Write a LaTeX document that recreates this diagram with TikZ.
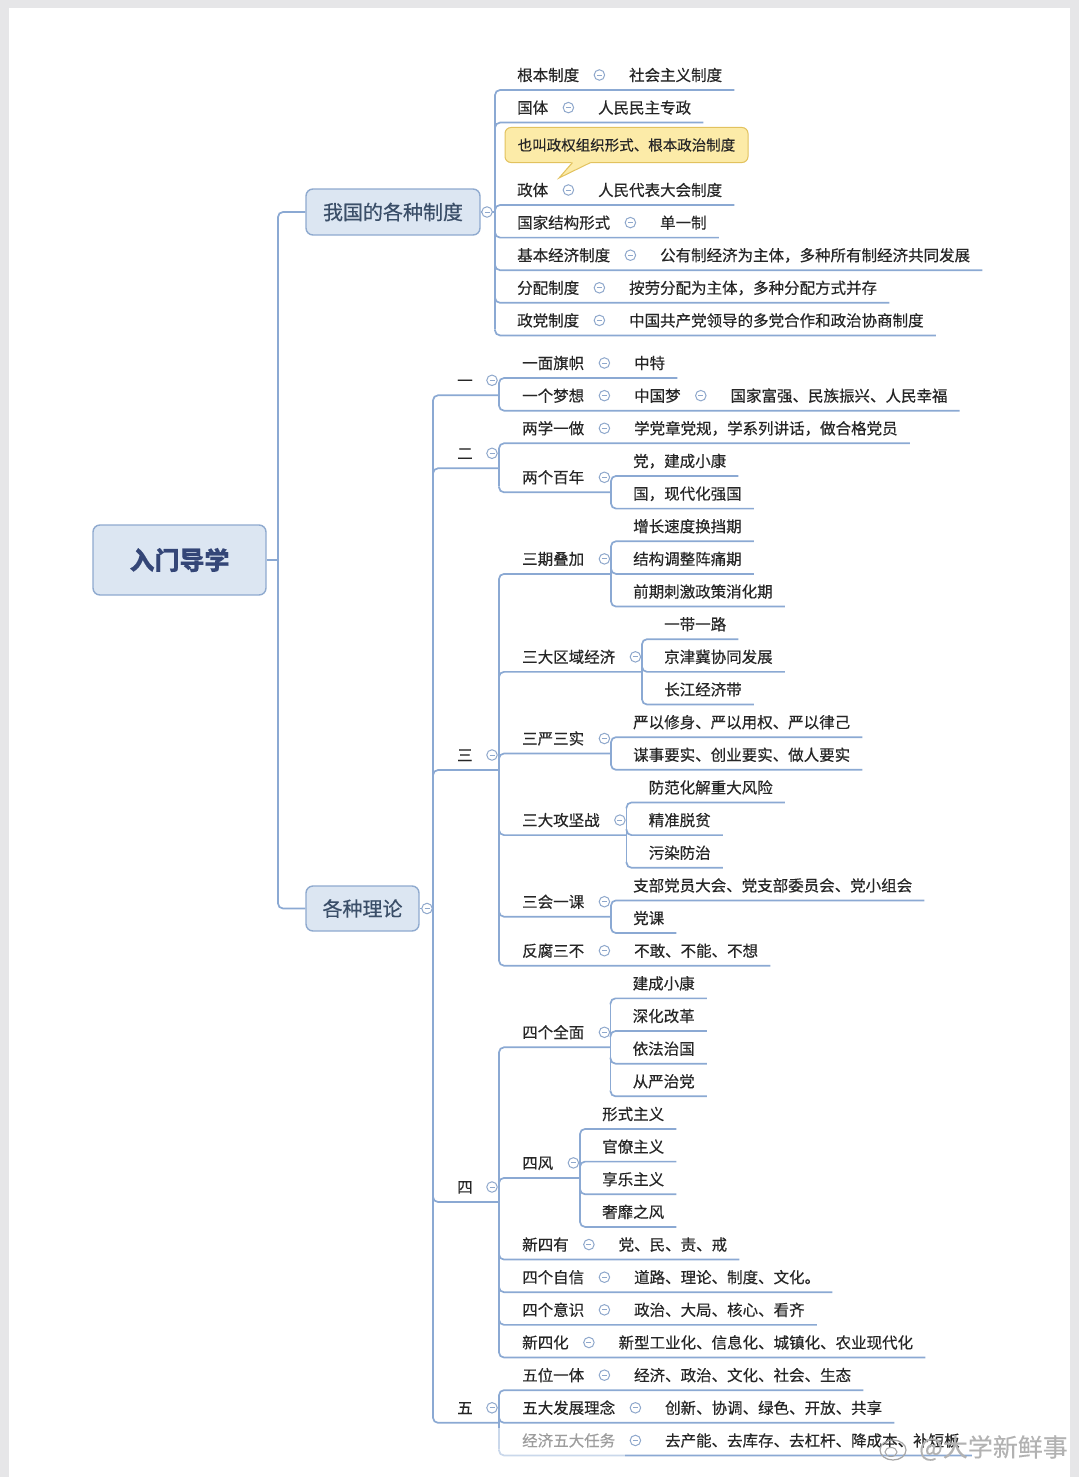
\documentclass[tikz,border=0pt]{standalone}
\usepackage{fontspec}
\setmainfont{Noto Sans CJK SC}[FakeBold=0.35]
\usetikzlibrary{calc}
\definecolor{ln}{HTML}{8BA9D3}
\definecolor{circ}{HTML}{8FA8CC}
\definecolor{bxf}{HTML}{DCE6F2}
\definecolor{bxd}{HTML}{8FAACF}
\definecolor{tx}{HTML}{262626}
\definecolor{bt}{HTML}{3A4E68}
\definecolor{pagebg}{HTML}{E6E6E8}
\definecolor{clf}{HTML}{FCEBA8}
\definecolor{cld}{HTML}{E2C25E}
\tikzset{
 txt/.style={inner sep=0pt, anchor=west, text height=12.9pt, text depth=1.1pt,
   font=\fontsize{15.5}{18}\selectfont, text=tx},
 cir/.style={circle, draw=circ, fill=white, line width=1pt, minimum size=10.5pt, inner sep=0pt,
   path picture={\draw[circ, line width=0.9pt] ([xshift=-2.5pt]path picture bounding box.center) -- ([xshift=2.5pt]path picture bounding box.center);}},
 ul/.style={draw=ln, line width=1.7pt, rounded corners=5pt},
 topicbox/.style={rounded corners=7pt, draw=bxd, fill=bxf, line width=1.4pt, text=bt, inner sep=0pt},
}
% #1 name, #2 spine x, #3 label x, #4 y, #5 dir, #6 label, #7 value
\newcommand\mmLeaf[7]{%
  \node[txt] (#1) at (#3,#4) {#6};
  \node[cir] (#1c) at ($(#1.east)+(20,0)$) {};
  \node[txt] (#1v) at ($(#1c.center)+(29.5,0)$) {#7};
  \draw[ul] (#2,{#4+15-6*(#5)}) -- (#2,{#4+15}) -- ($(#1v.east)+(12,15)$);
}
% #1 name, #2 spine x, #3 label x, #4 y, #5 dir, #6 label, #7 child spine x
\newcommand\mmPar[7]{%
  \node[txt] (#1) at (#3,#4) {#6};
  \node[cir] (#1c) at ($(#1.east)+(20,0)$) {};
  \draw[ul] (#2,{#4+15-6*(#5)}) -- (#2,{#4+15}) -- (#7,{#4+15});
}
% #1 name, #2 spine x, #3 y, #4 dir, #5 text
\newcommand\mmKid[5]{%
  \node[txt] (#1) at ({#2+22},#3) {#5};
  \draw[ul] (#2,{#3+15-6*(#4)}) -- (#2,{#3+15}) -- ($(#1.east)+(12,15)$);
}
% #1 name, #2 y, #3 dir, #4 text
\newcommand\mmTwo[4]{%
  \node[txt] (#1) at (457,#2) {#4};
  \node[cir] (#1c) at (492,#2) {};
  \draw[ul] (433,{#2+15-6*(#3)}) -- (433,{#2+15}) -- (499,{#2+15});
}
\begin{document}
\begin{tikzpicture}[x=1pt,y=-1pt]
\useasboundingbox (0,0) rectangle (1079,1477);
\fill[pagebg] (0,0) rectangle (1079,1477);
\fill[white] (9,8) rectangle (1070,1477);

% root and first level
\node[topicbox, minimum width=173pt, minimum height=70pt, font=\fontsize{25}{30}\selectfont\bfseries, text=bt!90!blue] (root) at (179.5,560) {入门导学};
\node[topicbox, minimum width=174pt, minimum height=46pt, font=\fontsize{20}{24}\selectfont] (sys) at (393,212) {我国的各种制度};
\node[topicbox, minimum width=113pt, minimum height=45pt, font=\fontsize{20}{24}\selectfont] (thy) at (362.5,908.5) {各种理论};
\coordinate (rs) at (278,560);
\draw[ul] (root.east) -- (rs);
\draw[ul] (sys.west) -- (278,212) -- (278,908.5) -- (thy.west);

% ===== 我国的各种制度 =====
\coordinate (sysS) at (495,212);
\draw[ul] (sys.east) -- (sysS);
\node[cir] (sysc) at (487,212) {};
\draw[ul] (495,96) -- (495,329.4);
\mmLeaf{a1}{495}{517}{75}{-1}{根本制度}{社会主义制度}
\mmLeaf{a2}{495}{517}{107.6}{-1}{国体}{人民民主专政}
\mmLeaf{a3}{495}{517}{190}{-1}{政体}{人民代表大会制度}
\mmLeaf{a4}{495}{517}{222.6}{1}{国家结构形式}{单一制}
\mmLeaf{a5}{495}{517}{255.2}{1}{基本经济制度}{公有制经济为主体，多种所有制经济共同发展}
\mmLeaf{a6}{495}{517}{287.8}{1}{分配制度}{按劳分配为主体，多种分配方式并存}
\mmLeaf{a7}{495}{517}{320.4}{1}{政党制度}{中国共产党领导的多党合作和政治协商制度}

% callout
\node[rounded corners=6pt, draw=cld, fill=clf, line width=1pt, minimum width=243pt, minimum height=35pt, inner sep=0pt,
  font=\fontsize{14.5}{17}\selectfont, text=tx] (note) at (626.5,145) {也叫政权组织形式、根本政治制度};
\fill[clf] (572,162) -- (559,178) -- (591,162) -- cycle;
\draw[cld, line width=1pt] (572.5,162.6) -- (559,178) -- (590.5,162.6);

% ===== 各种理论 =====
\coordinate (thyS) at (433,908.5);
\draw[ul] (thy.east) -- (thyS);
\node[cir] (thyc) at (427,908.5) {};
\draw[ul] (433,401.3) -- (433,1416.8);
\mmTwo{b1}{380.3}{-1}{一}
\mmTwo{b2}{453.3}{-1}{二}
\mmTwo{b3}{755}{-1}{三}
\mmTwo{b4}{1187}{1}{四}
\mmTwo{b5}{1407.8}{1}{五}

% 一
\draw[ul] (499,384) -- (499,404.6);
\mmLeaf{c1}{499}{522}{363}{-1}{一面旗帜}{中特}
\node[txt] (c2) at (522,395.65) {一个梦想};
\node[cir] (c2c) at ($(c2.east)+(20,0)$) {};
\node[txt] (c2v) at ($(c2c.center)+(29.5,0)$) {中国梦};
\node[cir] (c2d) at ($(c2v.east)+(20,0)$) {};
\node[txt] (c2w) at ($(c2d.center)+(29.5,0)$) {国家富强、民族振兴、人民幸福};
\draw[ul] (499,404.65) -- (499,410.65) -- ($(c2w.east)+(12,15)$);

% 二
\draw[ul] (499,449.3) -- (499,486.3);
\mmLeaf{c3}{499}{522}{428.3}{-1}{两学一做}{学党章党规，学系列讲话，做合格党员}
\mmPar{c4}{499}{522}{477.3}{1}{两个百年}{611}
\draw[ul] (611,482) -- (611,502.6);
\mmKid{c4a}{611}{460.95}{-1}{党，建成小康}
\mmKid{c4b}{611}{493.6}{1}{国，现代化强国}

% 三
\draw[ul] (499,579.9) -- (499,959.7);
\mmPar{c5}{499}{522}{558.9}{-1}{三期叠加}{611}
\draw[ul] (611,547.25) -- (611,600.55);
\mmKid{c5a}{611}{526.25}{-1}{增长速度换挡期}
\mmKid{c5b}{611}{558.9}{1}{结构调整阵痛期}
\mmKid{c5c}{611}{591.55}{1}{前期刺激政策消化期}
\mmPar{c6}{499}{522}{656.85}{-1}{三大区域经济}{642}
\draw[ul] (642,645.2) -- (642,698.5);
\mmKid{c6a}{642}{624.2}{-1}{一带一路}
\mmKid{c6b}{642}{656.85}{1}{京津冀协同发展}
\mmKid{c6c}{642}{689.5}{1}{长江经济带}
\mmPar{c7}{499}{522}{738.5}{-1}{三严三实}{611}
\draw[ul] (611,743.15) -- (611,763.8);
\mmKid{c7a}{611}{722.15}{-1}{严以修身、严以用权、严以律己}
\mmKid{c7b}{611}{754.8}{1}{谋事要实、创业要实、做人要实}
\mmPar{c8}{499}{522}{820.1}{1}{三大攻坚战}{626.5}
\draw[ul] (626.5,808.45) -- (626.5,861.75);
\mmKid{c8a}{626.5}{787.45}{-1}{防范化解重大风险}
\mmKid{c8b}{626.5}{820.1}{1}{精准脱贫}
\mmKid{c8c}{626.5}{852.75}{1}{污染防治}
\mmPar{c9}{499}{522}{901.7}{1}{三会一课}{611}
\draw[ul] (611,906.4) -- (611,927.05);
\mmKid{c9a}{611}{885.4}{-1}{支部党员大会、党支部委员会、党小组会}
\mmKid{c9b}{611}{918.05}{1}{党课}
\mmLeaf{c10}{499}{522}{950.7}{1}{反腐三不}{不敢、不能、不想}

% 四
\draw[ul] (499,1053.3) -- (499,1351.5);
\mmPar{d1}{499}{522}{1032.3}{-1}{四个全面}{610.5}
\draw[ul] (610.5,1004.35) -- (610.5,1090.3);
\mmKid{d1a}{610.5}{983.35}{-1}{建成小康}
\mmKid{d1b}{610.5}{1016}{-1}{深化改革}
\mmKid{d1c}{610.5}{1048.65}{1}{依法治国}
\mmKid{d1d}{610.5}{1081.3}{1}{从严治党}
\mmPar{d2}{499}{522}{1162.9}{-1}{四风}{580}
\draw[ul] (580,1134.95) -- (580,1220.9);
\mmKid{d2a}{580}{1113.95}{-1}{形式主义}
\mmKid{d2b}{580}{1146.6}{-1}{官僚主义}
\mmKid{d2c}{580}{1179.25}{1}{享乐主义}
\mmKid{d2d}{580}{1211.9}{1}{奢靡之风}
\mmLeaf{d3}{499}{522}{1244.55}{1}{新四有}{党、民、责、戒}
\mmLeaf{d4}{499}{522}{1277.2}{1}{四个自信}{道路、理论、制度、文化。}
\mmLeaf{d5}{499}{522}{1309.85}{1}{四个意识}{政治、大局、核心、看齐}
\mmLeaf{d6}{499}{522}{1342.5}{1}{新四化}{新型工业化、信息化、城镇化、农业现代化}

% 五
\draw[ul] (499,1396.15) -- (499,1449.45);
\mmLeaf{e1}{499}{522}{1375.15}{-1}{五位一体}{经济、政治、文化、社会、生态}
\mmLeaf{e2}{499}{522}{1407.8}{1}{五大发展理念}{创新、协调、绿色、开放、共享}
\mmLeaf{e3}{499}{522}{1440.45}{1}{经济五大任务}{去产能、去库存、去杠杆、降成本、补短板}

% watermark
\fill[white, opacity=0.55] (490,1428) rectangle (625,1477);
\draw[gray!70, line width=1.2pt] (893,1450) ellipse (13pt and 10pt);
\draw[gray!70, line width=1pt] (891,1452) ellipse (6pt and 4.5pt);
\node[anchor=east, inner sep=0pt, font=\fontsize{25}{28}\selectfont, text=gray!60] (wm) at (1068,1448) {@大学新鲜事};
\end{tikzpicture}
\end{document}
